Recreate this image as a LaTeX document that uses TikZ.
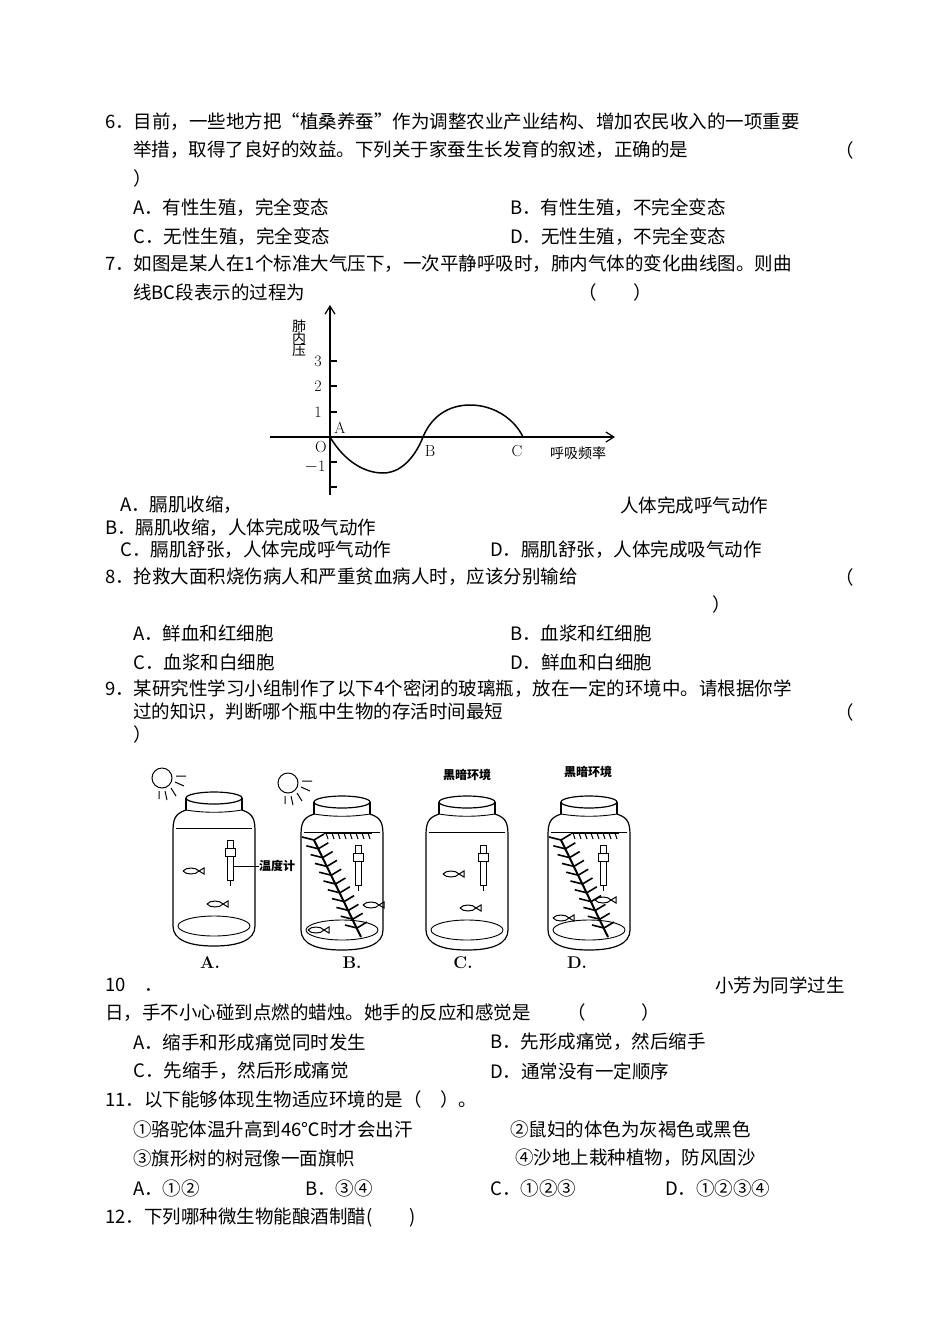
\documentclass[tikz,border=0pt]{standalone}
\usepackage{fontspec}
\newfontfamily\cjk{Noto Sans CJK SC}
\usetikzlibrary{arrows.meta}
\begin{document}
\begin{tikzpicture}[x=1pt,y=-1pt,
  t/.style={anchor=west,inner sep=0pt,font=\cjk\fontsize{18.5}{18.5}\selectfont},
  sm/.style={inner sep=0pt,font=\cjk\fontsize{14}{14}\selectfont},
  lab/.style={inner sep=0pt,font=\bfseries\fontsize{17}{17}\selectfont},
  jar/.pic={
    \draw[line width=1.2pt] (0,0) ellipse (28 and 6);
    \draw[line width=1.2pt] (-28,0) -- (-28,12) (28,0) -- (28,12);
    \draw[line width=1.2pt] (-28,12) .. controls (-40,16) and (-41,22) .. (-41,35) -- (-41,128) .. controls (-41,142) and (-25,148) .. (0,148) .. controls (25,148) and (41,142) .. (41,128) -- (41,35) .. controls (41,22) and (40,16) .. (28,12);
    \draw[line width=0.9pt] (-28,12) .. controls (-10,15) and (10,15) .. (28,12);
    \draw[line width=0.7pt] (-38,30) -- (38,30);
    \draw[line width=0.9pt] (0,128) ellipse (36 and 10);
  },
  therm/.pic={
    \draw[line width=1pt,fill=white] (-3,0) rectangle (3,40);
    \draw[line width=1pt,fill=white] (-5,8) rectangle (5,16);
    \draw[line width=1pt] (0,40) -- (0,46);
  },
  fish/.pic={
    \draw[line width=1pt] (-10,0) .. controls (-7,-4) and (3,-4) .. (6,0) .. controls (3,4) and (-7,4) .. (-10,0);
    \draw[line width=1pt] (6,0) -- (11,-3) -- (11,3) -- cycle;
  },
  plant/.pic={
    \draw[line width=2pt] (-22,-45) -- (25,52);
    \foreach \k in {0,...,10}{
      \draw[line width=1.6pt] ({-22+\k*4.3},{-45+\k*8.8}) -- ++(-12,-3);
      \draw[line width=1.6pt] ({-22+\k*4.3},{-45+\k*8.8}) -- ++(10,-6);
    }
    \draw[line width=1.6pt] (-12,-52) -- (36,-52);
    \foreach \k in {0,...,7}{\draw[line width=1.1pt] ({-10+\k*6},-52) -- ++(2,6);}
  },
  sun/.pic={
    \draw[line width=1pt] (0,0) circle (10);
    \draw[line width=1pt] (14,-2) -- (24,-2) (13,4) -- (22,8) (9,10) -- (14,18) (3,13) -- (5,22) (-3,13) -- (-3,21);
  }
]
\useasboundingbox (0,0) rectangle (950,1342);
\fill[white] (0,0) rectangle (950,1342);

\node[t] (l6a) at (105,122) {6．目前，一些地方把“植桑养蚕”作为调整农业产业结构、增加农民收入的一项重要};
\node[t] (l6b) at (133,150) {举措，取得了良好的效益。下列关于家蚕生长发育的叙述，正确的是};
\node[t] (l6p) at (835,150) {（};
\node[t] (l6q) at (133,178) {）};
\node[t] (o6a) at (133,208) {A．有性生殖，完全变态};
\node[t] (o6b) at (510,208) {B．有性生殖，不完全变态};
\node[t] (o6c) at (133,237) {C．无性生殖，完全变态};
\node[t] (o6d) at (510,237) {D．无性生殖，不完全变态};

\node[t] (l7a) at (105,264) {7．如图是某人在1个标准大气压下，一次平静呼吸时，肺内气体的变化曲线图。则曲};
\node[t] (l7b) at (133,292) {线BC段表示的过程为};
\node[t] (l7p) at (578,292) {（　　）};

% graph
\coordinate (O) at (330,437);
\coordinate (xe) at (615,437);
\coordinate (ye) at (330,305);
\draw[line width=1.2pt,-{Straight Barb[length=8pt,width=10pt]}] (270,437) -- (xe);
\draw[line width=1.2pt,-{Straight Barb[length=8pt,width=10pt]}] (330,495) -- (ye);
\foreach \yy in {361,386,412,462,487}{\draw[line width=1.2pt] (330,\yy) -- (337,\yy);}
\node[lab,font=\fontsize{16}{16}\selectfont] (n3) at (318,361) {3};
\node[lab,font=\fontsize{16}{16}\selectfont] (n2) at (318,386) {2};
\node[lab,font=\fontsize{16}{16}\selectfont] (n1) at (318,412) {1};
\node[lab,font=\fontsize{16}{16}\selectfont] (nm1) at (315,467) {$-$1};
\node[lab,font=\fontsize{16}{16}\selectfont] (nO) at (321,447) {O};
\node[lab,font=\fontsize{16}{16}\selectfont] (nA) at (340,428) {A};
\node[lab,font=\fontsize{16}{16}\selectfont] (nB) at (430,451) {B};
\node[lab,font=\fontsize{16}{16}\selectfont] (nC) at (517,451) {C};
\node[sm,align=center] (ylab) at (299,338) {肺\\[-2pt]内\\[-2pt]压};
\node[sm] (xlab) at (578,453) {呼吸频率};
\draw[line width=1.5pt] (O) .. controls (345,462) and (365,473) .. (383,473) .. controls (405,473) and (418,450) .. (423,437) .. controls (432,415) and (450,405) .. (470,405) .. controls (495,405) and (515,420) .. (523,437);

\node[t] (o7a) at (120,505) {A．膈肌收缩，};
\node[t] (o7a2) at (620,505) {人体完成呼气动作};
\node[t] (o7b) at (105,528) {B．膈肌收缩，人体完成吸气动作};
\node[t] (o7c) at (120,550) {C．膈肌舒张，人体完成呼气动作};
\node[t] (o7d) at (490,550) {D．膈肌舒张，人体完成吸气动作};

\node[t] (l8a) at (105,577) {8．抢救大面积烧伤病人和严重贫血病人时，应该分别输给};
\node[t] (l8p) at (835,577) {（};
\node[t] (l8q) at (712,604) {）};
\node[t] (o8a) at (133,633) {A．鲜血和红细胞};
\node[t] (o8b) at (510,633) {B．血浆和红细胞};
\node[t] (o8c) at (133,662) {C．血浆和白细胞};
\node[t] (o8d) at (510,662) {D．鲜血和白细胞};

\node[t] (l9a) at (105,689) {9．某研究性学习小组制作了以下4个密闭的玻璃瓶，放在一定的环境中。请根据你学};
\node[t] (l9b) at (133,712) {过的知识，判断哪个瓶中生物的存活时间最短};
\node[t] (l9p) at (835,712) {（};
\node[t] (l9q) at (133,734) {）};

% jars
\pic at (214,798) {jar};
\pic at (342,802) {jar};
\pic at (467,802) {jar};
\pic at (589,802) {jar};
\pic at (162,778) {sun};
\pic at (288,783) {sun};
\pic at (336,885) {plant};
\pic at (583,885) {plant};
\pic at (230,840) {therm};
\pic at (358,845) {therm};
\pic at (483,845) {therm};
\pic at (603,845) {therm};
\pic at (193,871) {fish};
\pic at (217,904) {fish};
\pic at (453,874) {fish};
\pic at (470,908) {fish};
\pic at (373,905) {fish};
\pic at (318,930) {fish};
\pic at (605,900) {fish};
\pic at (563,918) {fish};
\coordinate (tp) at (234,866);
\node[sm,font=\cjk\bfseries\fontsize{12}{12}\selectfont] (wdj) at (277,866) {温度计};
\draw[line width=0.8pt] (tp) -- (wdj.west);
\node[sm,font=\cjk\bfseries\fontsize{12}{12}\selectfont] (hc) at (467,775) {黑暗环境};
\node[sm,font=\cjk\bfseries\fontsize{12}{12}\selectfont] (hd) at (588,772) {黑暗环境};
\node[lab] (ja) at (210,963) {A.};
\node[lab] (jb) at (352,963) {B.};
\node[lab] (jc) at (463,963) {C.};
\node[lab] (jd) at (577,963) {D.};

\node[t] (l10a) at (105,985) {10　．};
\node[t] (l10b) at (715,985) {小芳为同学过生};
\node[t] (l10c) at (105,1013) {日，手不小心碰到点燃的蜡烛。她手的反应和感觉是　　（　　　）};
\node[t] (o10a) at (133,1042) {A．缩手和形成痛觉同时发生};
\node[t] (o10b) at (490,1042) {B．先形成痛觉，然后缩手};
\node[t] (o10c) at (133,1071) {C．先缩手，然后形成痛觉};
\node[t] (o10d) at (490,1071) {D．通常没有一定顺序};

\node[t] (l11) at (105,1099) {11．以下能够体现生物适应环境的是（　）。};
\node[t] (o11a) at (133,1129) {①骆驼体温升高到46℃时才会出汗};
\node[t] (o11b) at (510,1129) {②鼠妇的体色为灰褐色或黑色};
\node[t] (o11c) at (133,1158) {③旗形树的树冠像一面旗帜};
\node[t] (o11d) at (515,1158) {④沙地上栽种植物，防风固沙};
\node[t] (c11a) at (133,1188) {A．①②};
\node[t] (c11b) at (305,1188) {B．③④};
\node[t] (c11c) at (490,1188) {C．①②③};
\node[t] (c11d) at (665,1188) {D．①②③④};
\node[t] (l12) at (105,1217) {12．下列哪种微生物能酿酒制醋(　　)};
\end{tikzpicture}
\end{document}
